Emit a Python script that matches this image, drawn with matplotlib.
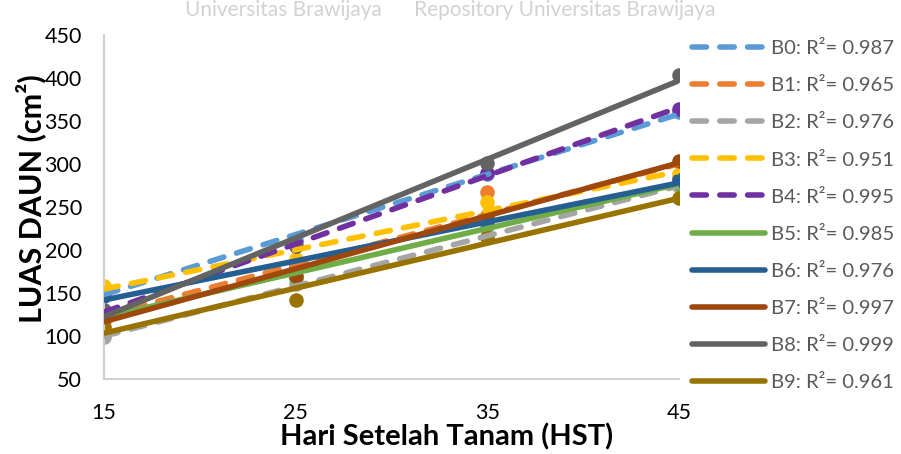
import numpy as np
import matplotlib
matplotlib.use("Agg")
from matplotlib import pyplot as plt

plt.rcParams['font.family'] = ['Lato', 'DejaVu Sans']

# pengamatan luas daun per perlakuan
hst = [15, 25, 35, 45]
names = ['B0', 'B1', 'B2', 'B3', 'B4', 'B5', 'B6', 'B7', 'B8', 'B9']
b0 = [152, 212, 288, 360]
b1 = [117, 180, 267, 284]
b2 = [99, 160, 215, 275]
b3 = [158, 190, 256, 288]
b4 = [128, 205, 290, 364]
b5 = [125, 167, 228, 277]
b6 = [147, 180, 232, 281]
b7 = [122, 170, 240, 304]
b8 = [130, 205, 301, 403]
b9 = [110, 142, 215, 260]
r2 = ['0.987', '0.965', '0.976', '0.951', '0.995',
      '0.985', '0.976', '0.997', '0.999', '0.961']

series = [b0, b1, b2, b3, b4, b5, b6, b7, b8, b9]
colors = ['#5B9BD5', '#ED7D31', '#A5A5A5', '#FFC000', '#7030A0',
          '#70AD47', '#255E91', '#9E480E', '#636363', '#997300']

fig = plt.figure(figsize=(9.01, 4.54), dpi=100)
ax = fig.add_axes([104/901, 1-379/454, 575/901, 344/454])

# titik data
for ys, c in zip(series, colors):
    ax.plot(hst, ys, 'o', color=c, ms=10.5, zorder=2, mec='none')

# garis tren linier
handles = []
xs = np.array([15, 45])
for i, (ys, c) in enumerate(zip(series, colors)):
    k, b = np.polyfit(hst, ys, 1)
    if i < 5:
        ln, = ax.plot(xs, k*xs + b, color=c, lw=4, dashes=(2.6, 2.4),
                      dash_capstyle='round', zorder=3)
    else:
        ln, = ax.plot(xs, k*xs + b, color=c, lw=4, solid_capstyle='round',
                      zorder=3)
    handles.append(ln)

labels = ['%s: R\u00b2= %s' % (n, r) for n, r in zip(names, r2)]

ax.set_xlim(15, 45)
ax.set_ylim(50, 450)
ax.set_xticks([15, 25, 35, 45])
ax.set_yticks(range(50, 451, 50))
ax.tick_params(length=0, labelsize=15.5, colors='black')
ax.tick_params(axis='y', pad=16)
ax.tick_params(axis='x', pad=17)
for s in ['top', 'right']:
    ax.spines[s].set_visible(False)
for s in ['left', 'bottom']:
    ax.spines[s].set_color('#D0D0D0')
    ax.spines[s].set_linewidth(1.5)

fig.text(447/901, 1-437/454, 'Hari Setelah Tanam (HST)', ha='center',
         va='center', fontsize=21, fontweight='bold')
fig.text(31/901, 1-199/454, 'LUAS DAUN (cm\u00b2)', ha='center',
         va='center', rotation=90, fontsize=22, fontweight='bold')

fig.legend(handles, labels, loc='upper left',
           bbox_to_anchor=(684/901, 1-32/454), frameon=False,
           fontsize=14.6, handlelength=3.6, handletextpad=0.3,
           labelspacing=0.98, labelcolor='#595959', borderaxespad=0)

fig.text(0.5, 1.0, 'Universitas Brawijaya      Repository Universitas Brawijaya',
         ha='center', va='top', fontsize=15, color='#D2D2D2')

fig.savefig('out.png', dpi=100)
